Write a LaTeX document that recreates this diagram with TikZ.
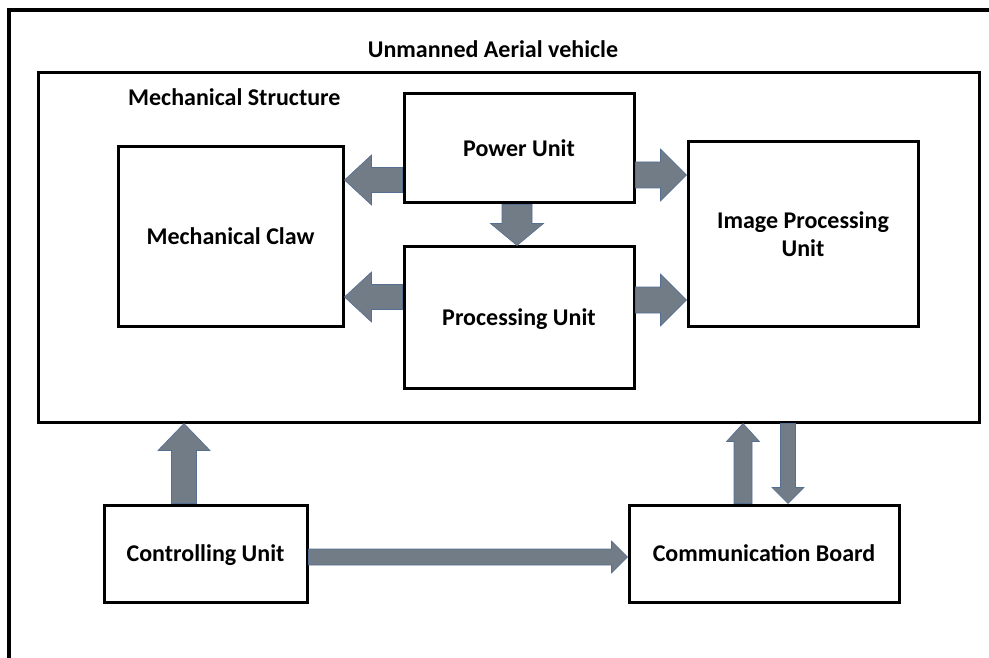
\documentclass[tikz,border=0pt]{standalone}
\usepackage{fontspec}
\setmainfont{Carlito}
\usetikzlibrary{calc}

\definecolor{arrowfill}{RGB}{114,124,135}
\definecolor{arrowedge}{RGB}{84,110,148}

% block arrow: #1 tail, #2 tip, #3 half shaft width, #4 half head width, #5 head length
\newcommand\blockarrow[5]{%
  \coordinate (ahb) at ($(#2)!#5!(#1)$);
  \filldraw[fill=arrowfill, draw=arrowedge, line width=0.6pt, line join=miter]
    ($(#1)!#3!90:(#2)$) -- ($(ahb)!#3!90:(#2)$) -- ($(ahb)!#4!90:(#2)$) -- (#2)
    -- ($(ahb)!#4!-90:(#2)$) -- ($(ahb)!#3!-90:(#2)$) -- ($(#1)!#3!-90:(#2)$) -- cycle;
}

\tikzset{
  every node/.style={font=\bfseries\fontsize{24}{28}\selectfont},
  unitbox/.style={draw, line width=3pt, inner sep=0pt, align=center},
  flat/.style={text depth=0pt},
}

\begin{document}
\begin{tikzpicture}[x=1pt, y=-1pt]
  \useasboundingbox (0,0) rectangle (989,658);

  % outer frame, open to the right and bottom
  \draw[line width=3.5pt] (989,10) -- (9,10) -- (9,658);

  \node[anchor=base] (title) at (493,58) {Unmanned Aerial vehicle};

  % vehicle body
  \node[unitbox, minimum width=941pt, minimum height=349pt] (uav) at (508.5,247.5) {};
  \node[anchor=base west, inner sep=0pt] (mstruct) at (128,106) {Mechanical Structure};

  % units inside the vehicle
  \node[unitbox, flat, minimum width=225pt, minimum height=179pt] (claw) at (230.5,236.5) {Mechanical Claw};
  \node[unitbox, flat, minimum width=230pt, minimum height=109pt] (power) at (519,148.5) {Power Unit};
  \node[unitbox, flat, minimum width=230pt, minimum height=141pt] (proc) at (519,317.5) {Processing Unit};
  \node[unitbox, minimum width=230pt, minimum height=184pt] (img) at (803,234) {Image Processing\\Unit};

  % ground side units
  \node[unitbox, flat, minimum width=203pt, minimum height=97pt] (ctrl) at (205.5,553.5) {Controlling Unit};
  \node[unitbox, flat, minimum width=270pt, minimum height=97pt] (comm) at (764,553.5) {Communication Board};

  % arrow end points
  \coordinate (a1) at ([yshift=-31.5pt]power.west);
  \coordinate (b1) at (claw.east |- a1);
  \coordinate (a2) at ([yshift=-26.5pt]power.east);
  \coordinate (b2) at (img.west |- a2);
  \coordinate (a3) at ([xshift=-2pt]power.south);
  \coordinate (b3) at (proc.north -| a3);
  \coordinate (a4) at ([yshift=20.5pt]proc.west);
  \coordinate (b4) at (claw.east |- a4);
  \coordinate (a5) at ([yshift=17.5pt]proc.east);
  \coordinate (b5) at (img.west |- a5);
  \coordinate (a6) at ([xshift=-21.5pt]ctrl.north);
  \coordinate (b6) at (uav.south -| a6);
  \coordinate (a7) at ([xshift=-21pt]comm.north);
  \coordinate (b7) at (uav.south -| a7);
  \coordinate (b8) at ([xshift=24pt]comm.north);
  \coordinate (a8) at (uav.south -| b8);
  \coordinate (a9) at ([yshift=-3.5pt]ctrl.east);
  \coordinate (b9) at (comm.west |- a9);

  \blockarrow{a1}{b1}{12.5pt}{25pt}{27pt}
  \blockarrow{a2}{b2}{13pt}{26pt}{26pt}
  \blockarrow{a3}{b3}{15pt}{26.5pt}{22pt}
  \blockarrow{a4}{b4}{12.5pt}{25pt}{27pt}
  \blockarrow{a5}{b5}{13pt}{26pt}{26pt}
  \blockarrow{a6}{b6}{12.5pt}{26pt}{27pt}
  \blockarrow{a7}{b7}{9pt}{16.5pt}{18pt}
  \blockarrow{a8}{b8}{7.5pt}{16pt}{16pt}
  \blockarrow{a9}{b9}{8pt}{16pt}{16pt}
\end{tikzpicture}
\end{document}
